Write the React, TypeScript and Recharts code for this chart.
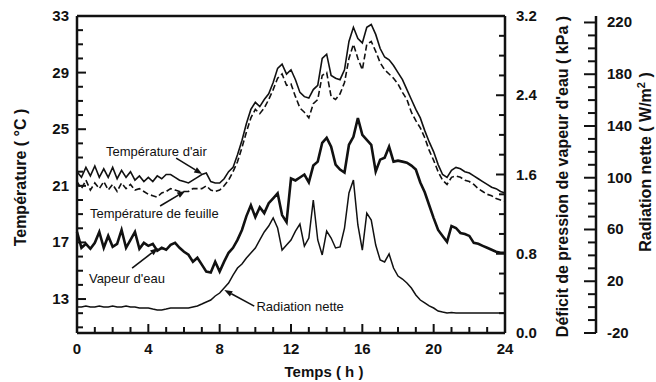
import React from 'react';
import { LineChart, Line, XAxis, YAxis, ReferenceLine, ReferenceDot } from 'recharts';

const hours = [
  0, 0.25, 0.5, 0.75, 1, 1.25, 1.5, 1.75,
  2, 2.25, 2.5, 2.75, 3, 3.25, 3.5, 3.75,
  4, 4.25, 4.5, 4.75, 5, 5.25, 5.5, 5.75,
  6, 6.25, 6.5, 6.75, 7, 7.25, 7.5, 7.75,
  8, 8.25, 8.5, 8.75, 9, 9.25, 9.5, 9.75,
  10, 10.25, 10.5, 10.75, 11, 11.25, 11.5, 11.75,
  12, 12.25, 12.5, 12.75, 13, 13.25, 13.5, 13.75,
  14, 14.25, 14.5, 14.75, 15, 15.25, 15.5, 15.75,
  16, 16.25, 16.5, 16.75, 17, 17.25, 17.5, 17.75,
  18, 18.25, 18.5, 18.75, 19, 19.25, 19.5, 19.75,
  20, 20.25, 20.5, 20.75, 21, 21.25, 21.5, 21.75,
  22, 22.25, 22.5, 22.75, 23, 23.25, 23.5, 23.75,
  24,
];

// Température d'air (°C)
const airTemp = [
  22.0, 21.6, 22.3, 21.7, 22.4, 21.6, 22.2, 21.6,
  22.3, 21.5, 22.1, 21.6, 22.0, 21.4, 21.7, 21.3,
  21.6, 21.3, 21.7, 21.5, 21.8, 21.8, 21.6, 21.4,
  21.3, 21.2, 21.4, 21.6, 21.8, 21.9, 21.3, 21.2,
  21.2, 21.5, 22.0, 22.3, 23.2, 24.2, 25.4, 26.4,
  26.9, 26.6, 27.1, 27.5, 28.3, 29.3, 29.6, 28.9,
  29.2, 28.5, 27.6, 27.3, 27.2, 27.8, 28.1, 30.0,
  30.3, 28.8, 28.6, 28.5, 29.2, 31.2, 32.2, 31.4,
  31.1, 32.2, 32.4, 31.7, 30.7, 30.1, 29.9, 29.5,
  29.0, 28.5, 27.8, 27.1, 26.4, 25.8, 24.9, 24.1,
  23.4, 22.5, 21.8, 21.6, 22.1, 22.3, 22.2, 22.0,
  21.9, 21.7, 21.5, 21.3, 21.1, 20.9, 20.8, 20.6,
  20.5,
];

// Température de feuille (°C)
const leafTemp = [
  21.3, 20.8, 21.4, 20.7, 21.2, 20.8, 21.3, 20.7,
  21.1, 20.6, 21.2, 20.8, 21.1, 20.7, 20.8, 20.6,
  20.4, 20.3, 20.2, 20.5, 20.6, 20.8, 20.7, 20.6,
  20.6, 20.6, 20.8, 20.8, 20.8, 21.0, 20.7, 20.6,
  20.7, 21.0, 21.4, 22.0, 22.7, 23.7, 24.8, 25.8,
  26.4, 26.1, 26.5, 27.1, 27.8, 28.6, 28.9, 28.1,
  28.2, 27.3, 26.5, 26.2, 25.8, 26.8, 27.1, 28.8,
  29.0, 27.3, 27.1, 27.5, 28.3, 30.0, 31.0, 30.0,
  29.2, 31.0, 31.2, 30.5, 29.7, 29.2, 28.9, 28.6,
  28.2, 27.6, 27.1, 26.2, 25.6, 25.1, 24.4, 23.5,
  22.8, 22.0, 21.4, 21.1, 21.6, 21.7, 21.6, 21.4,
  21.3, 21.1, 20.8, 20.6, 20.4, 20.3, 20.1, 20.0,
  19.9,
];

// Déficit de pression de vapeur d'eau (kPa)
const vpd = [
  1.02, 0.86, 0.90, 0.85, 0.91, 1.02, 0.86, 0.98,
  0.87, 0.90, 1.04, 0.86, 0.94, 1.02, 0.85, 0.91,
  0.88, 0.90, 0.83, 0.86, 0.84, 0.89, 0.91, 0.86,
  0.82, 0.79, 0.72, 0.76, 0.69, 0.62, 0.61, 0.72,
  0.62, 0.72, 0.81, 0.86, 0.94, 1.04, 1.18, 1.29,
  1.17, 1.27, 1.21, 1.31, 1.36, 1.41, 1.19, 1.12,
  1.56, 1.54, 1.57, 1.60, 1.52, 1.69, 1.73, 1.92,
  1.97, 1.88, 1.70, 1.65, 1.62, 1.90, 1.98, 2.17,
  2.00, 1.95, 1.90, 1.63, 1.75, 1.77, 1.88, 1.73,
  1.74, 1.73, 1.72, 1.69, 1.65, 1.52, 1.42, 1.29,
  1.16, 1.04, 0.98, 0.92, 1.08, 1.06, 1.01, 1.00,
  0.98, 0.91, 0.90, 0.88, 0.86, 0.84, 0.82, 0.81,
  0.81,
];

// Radiation nette (W/m2)
const netRad = [
  0.1, 0.1, 0.9, 0.1, 0.1, 0.9, 0.1, 0.1,
  0.9, 0.1, 0.1, 0.9, 0.1, 0.1, -0.7, -0.7,
  -0.7, -1.5, -2.2, -2.2, -1.5, -0.7, -0.7, -0.7,
  -0.7, -0.7, 0.1, 0.9, 2.4, 4.0, 5.5, 8.6,
  10.9, 14.8, 18.6, 24.8, 30.2, 33.3, 38.0, 41.8,
  45.7, 51.9, 58.1, 62.7, 68.9, 61.1, 44.1, 48.0,
  51.9, 58.8, 64.2, 47.2, 53.4, 82.8, 51.9, 40.3,
  58.8, 53.4, 45.7, 46.5, 61.1, 88.2, 98.2, 63.5,
  44.1, 72.7, 67.3, 48.0, 36.4, 34.9, 41.1, 30.2,
  24.0, 21.7, 18.6, 14.8, 9.4, 5.5, 3.2, 0.9,
  -0.7, -3.0, -3.8, -4.5, -4.2, -4.5, -4.5, -4.5,
  -4.5, -4.5, -4.5, -4.5, -4.5, -4.5, -4.5, -4.5,
  -4.5,
];

const hourTicks = [0, 1, 2, 3, 4, 5, 6, 7, 8, 9, 10, 11, 12, 13, 14, 15, 16, 17, 18, 19, 20, 21, 22, 23, 24];
const hourLabels = [0, 4, 8, 12, 16, 20, 24];
const tempTicks = [11, 12, 13, 14, 15, 16, 17, 18, 19, 20, 21, 22, 23, 24, 25, 26, 27, 28, 29, 30, 31, 32, 33];
const tempLabels = [13, 17, 21, 25, 29, 33];
const vpdTicks = [0, 0.2, 0.4, 0.6, 0.8, 1.0, 1.2, 1.4, 1.6, 1.8, 2.0, 2.2, 2.4, 2.6, 2.8, 3.0, 3.2];
const vpdLabels = [0, 0.8, 1.6, 2.4, 3.2];
const radTicks = [-20, -10, 0, 10, 20, 30, 40, 50, 60, 70, 80, 90, 100, 110, 120, 130, 140, 150, 160, 170, 180, 190, 200, 210, 220];
const radLabels = [-20, 20, 60, 100, 140, 180, 220];

// annotations, in (hour, °C) coordinates
const notes = [
  { text: "Température d'air", h: 1.63, t: 23.1 },
  { text: 'Température de feuille', h: 0.73, t: 18.72 },
  { text: "Vapeur d'eau", h: 0.67, t: 14.13 },
  { text: 'Radiation nette', h: 10.06, t: 12.15 },
];
const pointers = [
  { from: [5.56, 22.96], to: [7.02, 21.83] },
  { from: [4.66, 19.57], to: [6.07, 20.63] },
  { from: [3.09, 15.19], to: [4.55, 16.6] },
  { from: [9.94, 12.5], to: [8.26, 13.64] },
];

const data = hours.map((t, i) => ({
  t,
  air: airTemp[i],
  leaf: leafTemp[i],
  vpd: vpd[i],
  rad: netRad[i],
}));

const INK = '#111';
const FONT = '"Liberation Sans", Arial, sans-serif';

const tickText = {
  fontFamily: FONT,
  fontWeight: 700,
  fontSize: 15,
  fill: INK,
};

function LeftTick({ x, y, payload }: any) {
  const major = tempLabels.includes(payload.value);
  return (
    <g>
      <line x1={x} x2={x + (major ? 9 : 6)} y1={y} y2={y} stroke={INK} strokeWidth={2} />
      {major && (
        <text x={x - 8} y={y} dy={5} textAnchor="end" {...tickText}>
          {payload.value}
        </text>
      )}
    </g>
  );
}

function VpdTick({ x, y, payload }: any) {
  const major = vpdLabels.includes(payload.value);
  return (
    <g>
      <line x1={x} x2={x - (major ? 9 : 6)} y1={y} y2={y} stroke={INK} strokeWidth={2} />
      {major && (
        <text x={x + 11} y={y} dy={5} textAnchor="start" {...tickText}>
          {payload.value.toFixed(1)}
        </text>
      )}
    </g>
  );
}

function RadTick({ x, y, payload }: any) {
  const major = radLabels.includes(payload.value);
  return (
    <g>
      <line x1={x} x2={x - (major ? 12 : 8)} y1={y} y2={y} stroke={INK} strokeWidth={2} />
      {major && (
        <text x={x + 11} y={y} dy={5} textAnchor="start" {...tickText}>
          {payload.value}
        </text>
      )}
    </g>
  );
}

function BottomTick({ x, y, payload }: any) {
  const major = hourLabels.includes(payload.value);
  return (
    <g>
      <line x1={x} x2={x} y1={y} y2={y - (major ? 9 : 6)} stroke={INK} strokeWidth={2} />
      {major && (
        <text x={x} y={y + 21} textAnchor="middle" {...tickText}>
          {payload.value}
        </text>
      )}
    </g>
  );
}

const titleStyle = { fontFamily: FONT, fontWeight: 700, fontSize: 16, fill: INK };

function Arrow(props: any) {
  const { x1, y1, x2, y2 } = props;
  const a = Math.atan2(y2 - y1, x2 - x1);
  const len = 8;
  const w = 3;
  const bx = x2 - len * Math.cos(a);
  const by = y2 - len * Math.sin(a);
  const px = -Math.sin(a) * w;
  const py = Math.cos(a) * w;
  return (
    <g>
      <line x1={x1} y1={y1} x2={bx} y2={by} stroke={INK} strokeWidth={1.6} />
      <polygon points={`${x2},${y2} ${bx + px},${by + py} ${bx - px},${by - py}`} fill={INK} />
    </g>
  );
}

export default function App() {
  return (
    <div style={{ position: 'absolute', left: 0, top: 0, background: '#fff' }}>
      <LineChart width={656} height={382} data={data} margin={{ top: 16, right: 0, bottom: 0, left: 0 }}>
        <XAxis
          dataKey="t"
          type="number"
          domain={[0, 24]}
          ticks={hourTicks}
          interval={0}
          height={49}
          tickSize={0}
          tickMargin={0}
          tickLine={false}
          axisLine={{ stroke: INK, strokeWidth: 2.5 }}
          tick={(p: any) => <BottomTick {...p} />}
          label={(p: any) => {
            const vb = p.viewBox || {};
            return (
              <text x={vb.x + vb.width / 2 + 33} y={vb.y + 44} textAnchor="middle" {...titleStyle} fontSize={15}>
                Temps ( h )
              </text>
            );
          }}
        />
        <YAxis
          yAxisId="temp"
          orientation="left"
          type="number"
          domain={[10.6, 33]}
          ticks={tempTicks}
          interval={0}
          width={77}
          tickSize={0}
          tickMargin={0}
          tickLine={false}
          axisLine={{ stroke: INK, strokeWidth: 2.5 }}
          tick={(p: any) => <LeftTick {...p} />}
          label={(p: any) => {
            const vb = p.viewBox || {};
            const cx = vb.x + 26;
            const cy = vb.y + vb.height / 2 + 3;
            return (
              <text x={cx} y={cy} textAnchor="middle" transform={`rotate(-90, ${cx}, ${cy})`} {...titleStyle}>
                Température ( °C )
              </text>
            );
          }}
        />
        <YAxis
          yAxisId="kpa"
          orientation="right"
          type="number"
          domain={[0, 3.2]}
          ticks={vpdTicks}
          interval={0}
          width={91}
          tickSize={0}
          tickMargin={0}
          tickLine={false}
          axisLine={{ stroke: INK, strokeWidth: 2.5 }}
          tick={(p: any) => <VpdTick {...p} />}
          label={(p: any) => {
            const vb = p.viewBox || {};
            const cx = vb.x + 63;
            const cy = vb.y + vb.height / 2 + 2;
            return (
              <text x={cx} y={cy} textAnchor="middle" transform={`rotate(-90, ${cx}, ${cy})`} {...titleStyle}>
                Déficit de pression de vapeur d'eau ( kPa )
              </text>
            );
          }}
        />
        <YAxis
          yAxisId="wm2"
          orientation="right"
          type="number"
          domain={[-20, 225]}
          ticks={radTicks}
          interval={0}
          width={60}
          tickSize={0}
          tickMargin={0}
          tickLine={false}
          axisLine={{ stroke: INK, strokeWidth: 2.5 }}
          tick={(p: any) => <RadTick {...p} />}
          label={(p: any) => {
            const vb = p.viewBox || {};
            const cx = vb.x + 55;
            const cy = vb.y + 146;
            return (
              <text x={cx} y={cy} textAnchor="middle" transform={`rotate(-90, ${cx}, ${cy})`} {...titleStyle}>
                Radiation nette ( W/m
                <tspan fontSize={11} dy={-6}>2</tspan>
                <tspan dy={6}> )</tspan>
              </text>
            );
          }}
        />

        <ReferenceLine yAxisId="temp" y={33} stroke={INK} strokeWidth={2.5} />

        <Line yAxisId="wm2" dataKey="rad" type="linear" stroke={INK} strokeWidth={1.5} dot={false} isAnimationActive={false} />
        <Line yAxisId="kpa" dataKey="vpd" type="linear" stroke={INK} strokeWidth={2.6} dot={false} isAnimationActive={false} />
        <Line yAxisId="temp" dataKey="leaf" type="linear" stroke={INK} strokeWidth={1.6} strokeDasharray="6 3" dot={false} isAnimationActive={false} />
        <Line yAxisId="temp" dataKey="air" type="linear" stroke={INK} strokeWidth={1.6} dot={false} isAnimationActive={false} />

        {pointers.map((p, i) => (
          <ReferenceLine
            key={`ptr-${i}`}
            yAxisId="temp"
            segment={[
              { x: p.from[0], y: p.from[1] },
              { x: p.to[0], y: p.to[1] },
            ]}
            shape={(sp: any) => <Arrow {...sp} />}
          />
        ))}
        {notes.map((n, i) => (
          <ReferenceDot
            key={`note-${i}`}
            yAxisId="temp"
            x={n.h}
            y={n.t}
            r={1}
            shape={(sp: any) => (
              <text x={sp.cx} y={sp.cy} textAnchor="start" fontFamily={FONT} fontSize={13} fill={INK}>
                {n.text}
              </text>
            )}
          />
        ))}
      </LineChart>
    </div>
  );
}
